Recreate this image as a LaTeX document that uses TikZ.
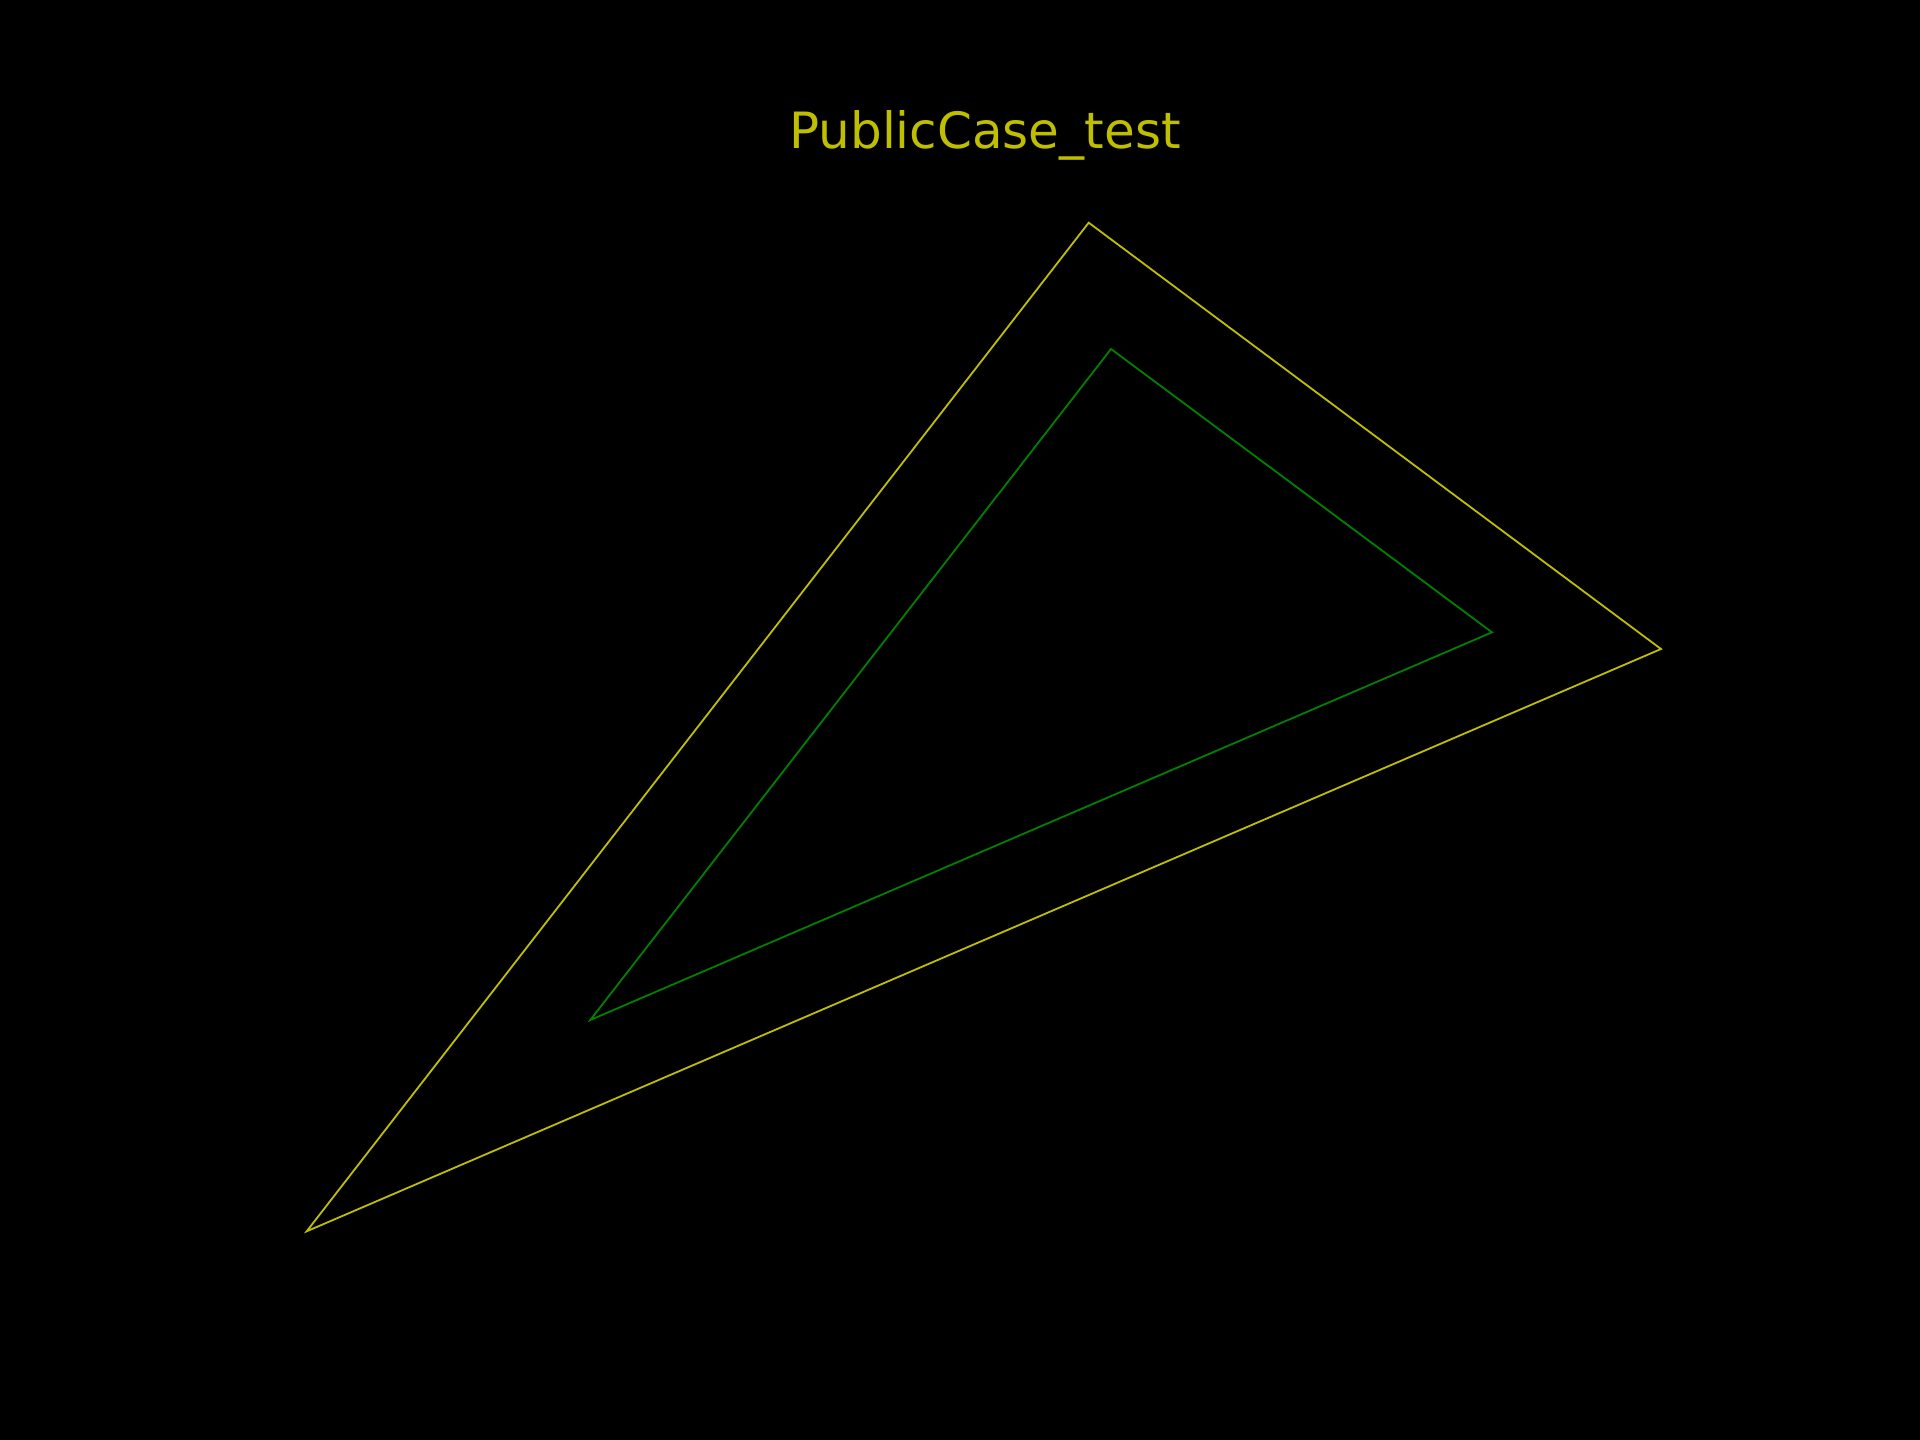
\documentclass[tikz,border=0pt]{standalone}
\usepackage{fontspec}
\setmainfont{DejaVu Sans}
\definecolor{myyellow}{RGB}{191,191,0}
\definecolor{mygreen}{RGB}{0,128,0}
\begin{document}
\begin{tikzpicture}[x=1pt,y=-1pt,
  outer/.style={draw=myyellow,line width=1.8pt,line join=miter},
  inner/.style={draw=mygreen,line width=1.8pt,line join=miter}]
\fill[black] (0,0) rectangle (1920,1440);
\useasboundingbox (0,0) rectangle (1920,1440);
\node[anchor=base,text=myyellow,font=\fontsize{50}{60}\selectfont,inner sep=0pt] (title) at (985,148.3) {PublicCase\_test};
\coordinate (o1) at (1088.7,222.7);
\coordinate (o2) at (1661,649);
\coordinate (o3) at (306.7,1231.3);
\coordinate (i1) at (1111,349);
\coordinate (i2) at (1492,632.3);
\coordinate (i3) at (590.3,1020);
\draw[outer] (o1) -- (o2) -- (o3) -- cycle;
\draw[inner] (i1) -- (i2) -- (i3) -- cycle;
\end{tikzpicture}
\end{document}
